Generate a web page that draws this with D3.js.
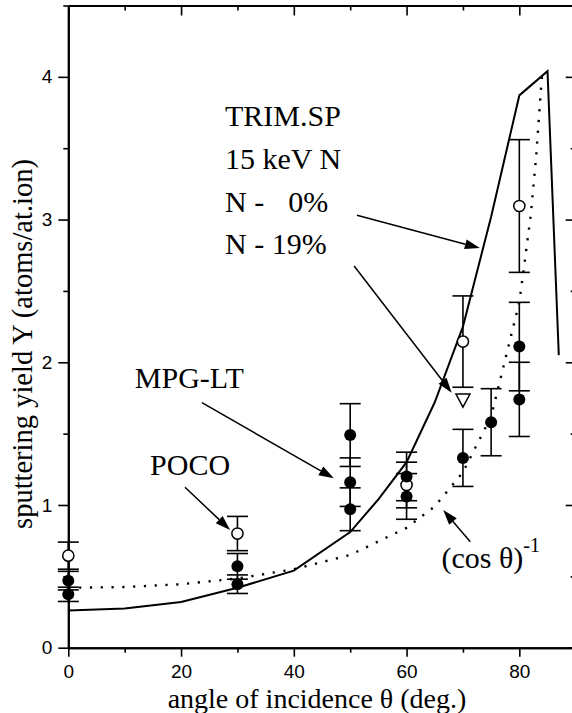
<!DOCTYPE html>
<html>
<head>
<meta charset="utf-8">
<script src="https://cdn.jsdelivr.net/npm/d3@7"></script>
<style>
  html, body { margin: 0; padding: 0; background: #fff; }
  svg { display: block; }
</style>
</head>
<body>
<svg id="chart" width="572" height="713"></svg>
<script>
// ---------- data ----------
const xMajorTicks = [0, 20, 40, 60, 80];
const xMinorTicks = [10, 30, 50, 70, 90];
const yMajorTicks = [0, 1, 2, 3, 4];
const yMinorTicks = [0.5, 1.5, 2.5, 3.5, 4.5];

// TRIM.SP simulation (solid line)
const trimAngles = [0, 10, 20, 30, 40, 50, 55, 60, 65, 70, 75, 80, 85, 87];
const trimYield  = [0.26, 0.275, 0.32, 0.42, 0.54, 0.81, 1.04, 1.3, 1.72, 2.25, 3.02, 3.87, 4.04, 2.05];

// (cos θ)^-1 curve (dotted line)
const cosAngles = [0, 10, 20, 30, 40, 50, 60, 65, 70, 75, 80, 82, 83, 84];
const cosYield  = [0.42, 0.425, 0.445, 0.485, 0.55, 0.65, 0.84, 0.99, 1.23, 1.62, 2.42, 3.02, 3.45, 4.0];

// MPG-LT measurements (filled circles)
const filledAngles = [0, 0, 30, 30, 50, 50, 50, 60, 60, 70, 75, 80, 80];
const filledYield  = [0.47, 0.374, 0.57, 0.445, 1.49, 1.16, 0.97, 1.2, 1.06, 1.33, 1.58, 2.11, 1.74];
const filledErr    = [0.065, 0.05, 0.09, 0.065, 0.22, 0.17, 0.15, 0.17, 0.16, 0.2, 0.235, 0.31, 0.26];

// POCO measurements (open circles)
const openAngles = [0, 30, 60, 70, 80];
const openYield  = [0.645, 0.8, 1.14, 2.145, 3.095];
const openErr    = [0.095, 0.12, 0.16, 0.32, 0.465];

// triangle point
const triAngles = [70];
const triYield  = [1.735];

// annotation labels (data coordinates of text baseline start)
const labelTexts = ["TRIM.SP", "15 keV N", "N -", "0%", "N - 19%", "MPG-LT", "POCO"];
const labelX     = [27.8, 27.8, 27.8, 39.0, 27.8, 11.8, 14.5];
const labelY     = [3.657, 3.351, 3.055, 3.055, 2.757, 1.819, 1.209];

// annotation arrows [startX, startY, tipX, tipY] in data coordinates
const arrowStartX = [51.2, 50.7, 23.7, 20.7, 71.3];
const arrowStartY = [3.03, 2.675, 1.717, 1.124, 0.743];
const arrowTipX   = [73.0, 68.0, 47.1, 28.7, 66.5];
const arrowTipY   = [2.80, 1.787, 1.187, 0.825, 0.965];

// ---------- layout ----------
const svg = d3.select("#chart");
const mLeft = 68.3, mRight = 575.7, mTop = 5.5, mBottom = 647.7;

const x = d3.scaleLinear().domain([0, 90]).range([mLeft, mRight]);
const y = d3.scaleLinear().domain([0, 4.5]).range([mBottom, mTop]);

const sansFont = "'Liberation Sans', Arial, Helvetica, sans-serif";
const serifFont = "'Liberation Serif', 'Times New Roman', serif";

// ---------- axes ----------
function styleAxis(g) {
  g.select(".domain").attr("stroke", "#000").attr("stroke-width", 2);
  g.selectAll(".tick line").attr("stroke", "#000").attr("stroke-width", 1.6);
  g.selectAll(".tick text").attr("font-family", sansFont).attr("font-size", 19).attr("fill", "#000");
}

// bottom
svg.append("g").attr("transform", `translate(0,${mBottom})`)
  .call(d3.axisBottom(x).tickValues(xMinorTicks).tickSize(5).tickSizeOuter(0).tickFormat(""))
  .call(styleAxis);
svg.append("g").attr("transform", `translate(0,${mBottom})`)
  .call(d3.axisBottom(x).tickValues(xMajorTicks).tickSize(9).tickSizeOuter(0).tickPadding(7.5))
  .call(styleAxis);
// top (inward)
svg.append("g").attr("transform", `translate(0,${mTop})`)
  .call(d3.axisBottom(x).tickValues(xMinorTicks).tickSize(5).tickSizeOuter(0).tickFormat(""))
  .call(styleAxis);
svg.append("g").attr("transform", `translate(0,${mTop})`)
  .call(d3.axisBottom(x).tickValues(xMajorTicks).tickSize(10).tickSizeOuter(0).tickFormat(""))
  .call(styleAxis);
// left
svg.append("g").attr("transform", `translate(${mLeft},0)`)
  .call(d3.axisLeft(y).tickValues(yMinorTicks).tickSize(5).tickSizeOuter(0).tickFormat(""))
  .call(styleAxis);
svg.append("g").attr("transform", `translate(${mLeft},0)`)
  .call(d3.axisLeft(y).tickValues(yMajorTicks).tickSize(10).tickSizeOuter(0).tickPadding(6).tickFormat(d3.format("d")))
  .call(styleAxis);
// right (inward)
svg.append("g").attr("transform", `translate(${mRight},0)`)
  .call(d3.axisLeft(y).tickValues(yMinorTicks).tickSize(5).tickSizeOuter(0).tickFormat(""))
  .call(styleAxis);
svg.append("g").attr("transform", `translate(${mRight},0)`)
  .call(d3.axisLeft(y).tickValues(yMajorTicks).tickSize(10).tickSizeOuter(0).tickFormat(""))
  .call(styleAxis);

// axis titles
svg.append("text")
  .attr("x", 317).attr("y", 708)
  .attr("text-anchor", "middle")
  .attr("font-family", serifFont).attr("font-size", 28)
  .text("angle of incidence θ (deg.)");
svg.append("text")
  .attr("transform", "translate(32,344) rotate(-90)")
  .attr("text-anchor", "middle")
  .attr("font-family", serifFont).attr("font-size", 28.5)
  .text("sputtering yield Y (atoms/at.ion)");

// ---------- curves ----------
const line = d3.line().x(d => x(d[0])).y(d => y(d[1]));

svg.append("path")
  .datum(cosAngles.map((a, i) => [a, cosYield[i]]))
  .attr("d", line)
  .attr("fill", "none").attr("stroke", "#000")
  .attr("stroke-width", 2.4).attr("stroke-dasharray", "2.2,8.6");

svg.append("path")
  .datum(trimAngles.map((a, i) => [a, trimYield[i]]))
  .attr("d", line)
  .attr("fill", "none").attr("stroke", "#000")
  .attr("stroke-width", 2).attr("stroke-linejoin", "miter");

// ---------- error bars ----------
const capW = 10.5;
function errorBars(angles, vals, errs) {
  const data = angles.map((a, i) => ({ a, v: vals[i], e: errs[i] }));
  const g = svg.append("g").attr("stroke", "#000").attr("stroke-width", 1.6);
  data.forEach(d => {
    g.append("line").attr("x1", x(d.a)).attr("x2", x(d.a))
      .attr("y1", y(d.v + d.e)).attr("y2", y(d.v - d.e));
    [d.v + d.e, d.v - d.e].forEach(c => {
      g.append("line").attr("x1", x(d.a) - capW).attr("x2", x(d.a) + capW)
        .attr("y1", y(c)).attr("y2", y(c));
    });
  });
}
errorBars(openAngles, openYield, openErr);
errorBars(filledAngles, filledYield, filledErr);

// ---------- markers ----------
svg.append("g").selectAll("circle")
  .data(openAngles.map((a, i) => [a, openYield[i]]))
  .join("circle")
  .attr("cx", d => x(d[0])).attr("cy", d => y(d[1])).attr("r", 5.6)
  .attr("fill", "#fff").attr("stroke", "#000").attr("stroke-width", 1.5);

svg.append("g").selectAll("circle")
  .data(filledAngles.map((a, i) => [a, filledYield[i]]))
  .join("circle")
  .attr("cx", d => x(d[0])).attr("cy", d => y(d[1])).attr("r", 6)
  .attr("fill", "#000");

svg.append("g").selectAll("path")
  .data(triAngles.map((a, i) => [a, triYield[i]]))
  .join("path")
  .attr("transform", d => `translate(${x(d[0])},${y(d[1])})`)
  .attr("d", "M-7,-6 L7,-6 L0,7 Z")
  .attr("fill", "#fff").attr("stroke", "#000").attr("stroke-width", 1.5);

// ---------- annotations ----------
svg.append("g").selectAll("text")
  .data(labelTexts.map((t, i) => ({ t, a: labelX[i], v: labelY[i] })))
  .join("text")
  .attr("x", d => x(d.a)).attr("y", d => y(d.v))
  .attr("font-family", serifFont).attr("font-size", 30).attr("fill", "#000")
  .text(d => d.t);

// (cos θ)^-1 label
const cosLabel = svg.append("text")
  .attr("x", x(66.2)).attr("y", y(0.56))
  .attr("font-family", serifFont).attr("font-size", 30).attr("fill", "#000");
cosLabel.append("tspan").text("(cos θ)");
cosLabel.append("tspan").attr("dy", -16).attr("font-size", 20).text("-1");

// arrows
const ag = svg.append("g");
arrowStartX.forEach((sx, i) => {
  const x1 = x(sx), y1 = y(arrowStartY[i]);
  const x2 = x(arrowTipX[i]), y2 = y(arrowTipY[i]);
  const ang = Math.atan2(y2 - y1, x2 - x1);
  const L = 15, W = 5;
  const bx = x2 - L * Math.cos(ang), by = y2 - L * Math.sin(ang);
  ag.append("line").attr("x1", x1).attr("y1", y1).attr("x2", bx).attr("y2", by)
    .attr("stroke", "#000").attr("stroke-width", 1.5);
  const px = -Math.sin(ang) * W, py = Math.cos(ang) * W;
  ag.append("path")
    .attr("d", `M${x2},${y2} L${bx + px},${by + py} L${bx - px},${by - py} Z`)
    .attr("fill", "#000");
});
</script>
</body>
</html>
